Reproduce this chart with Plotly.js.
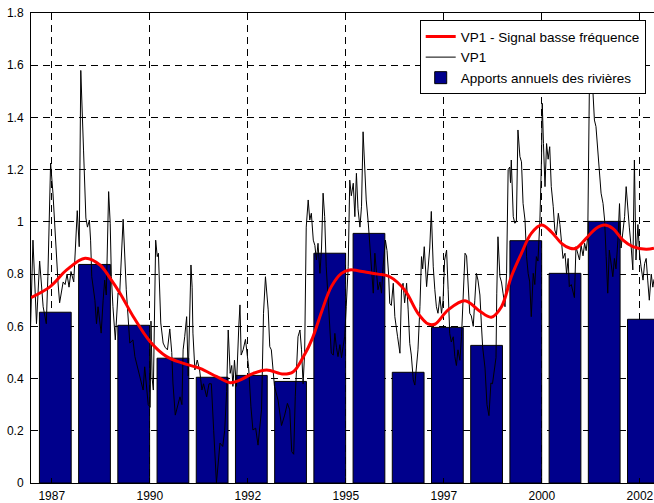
<!DOCTYPE html>
<html><head><meta charset="utf-8">
<script src="https://cdn.plot.ly/plotly-3.0.1.min.js"></script>
<style>html,body{margin:0;padding:0;background:#fff}</style>
</head><body><div id="chart" style="width:654px;height:503px"></div>
<script>
// Annual river inflows (bars), one per year
const years = [1987,1988,1989,1990,1991,1992,1993,1994,1995,1996,1997,1998,1999,2000,2001,2002];
const apports = [0.654,0.837,0.604,0.478,0.405,0.412,0.389,0.880,0.956,0.424,0.596,0.527,0.928,0.803,1.002,0.627];

// VP1 (high-frequency signal), decimal years
const vp1Time = [1986.95,1987.02,1987.11,1987.19,1987.28,1987.36,1987.40,1987.47,1987.53,1987.58,1987.66,1987.70,1987.74,1987.79,1987.84,1987.89,1987.94,1987.99,1988.06,1988.12,1988.15,1988.20,1988.24,1988.31,1988.37,1988.41,1988.46,1988.49,1988.52,1988.60,1988.64,1988.68,1988.72,1988.76,1988.81,1988.85,1988.89,1988.95,1988.99,1989.02,1989.06,1989.12,1989.19,1989.23,1989.32,1989.40,1989.49,1989.57,1989.62,1989.70,1989.78,1989.83,1989.87,1989.91,1989.96,1990.01,1990.03,1990.06,1990.09,1990.15,1990.19,1990.22,1990.28,1990.34,1990.39,1990.45,1990.51,1990.56,1990.59,1990.65,1990.71,1990.77,1990.82,1990.85,1990.89,1990.94,1990.98,1991.02,1991.05,1991.08,1991.10,1991.15,1991.21,1991.27,1991.33,1991.37,1991.45,1991.51,1991.57,1991.63,1991.70,1991.79,1991.86,1991.91,1991.96,1992.00,1992.05,1992.09,1992.12,1992.16,1992.21,1992.27,1992.30,1992.33,1992.38,1992.44,1992.48,1992.52,1992.58,1992.63,1992.70,1992.76,1992.85,1992.90,1992.95,1993.02,1993.06,1993.10,1993.18,1993.27,1993.36,1993.44,1993.51,1993.57,1993.62,1993.67,1993.71,1993.78,1993.83,1993.87,1993.91,1993.95,1993.99,1994.04,1994.08,1994.12,1994.17,1994.21,1994.25,1994.29,1994.34,1994.38,1994.42,1994.46,1994.50,1994.55,1994.59,1994.63,1994.68,1994.72,1994.76,1994.80,1994.85,1994.89,1994.93,1994.97,1995.01,1995.06,1995.10,1995.14,1995.19,1995.23,1995.27,1995.31,1995.36,1995.40,1995.44,1995.48,1995.52,1995.57,1995.61,1995.65,1995.70,1995.74,1995.78,1995.82,1995.87,1995.91,1995.95,1996.01,1996.05,1996.09,1996.12,1996.16,1996.21,1996.25,1996.32,1996.38,1996.42,1996.46,1996.50,1996.55,1996.59,1996.63,1996.67,1996.72,1996.76,1996.80,1996.84,1996.89,1996.93,1996.96,1997.00,1997.06,1997.10,1997.14,1997.18,1997.23,1997.27,1997.31,1997.35,1997.40,1997.44,1997.48,1997.52,1997.57,1997.61,1997.65,1997.69,1997.74,1997.78,1997.82,1997.86,1997.91,1997.95,1997.99,1998.04,1998.08,1998.12,1998.16,1998.20,1998.25,1998.29,1998.33,1998.37,1998.42,1998.46,1998.49,1998.55,1998.60,1998.65,1998.70,1998.74,1998.78,1998.83,1998.85,1998.88,1998.93,1998.97,1999.01,1999.06,1999.10,1999.14,1999.18,1999.20,1999.22,1999.27,1999.31,1999.35,1999.39,1999.44,1999.48,1999.52,1999.57,1999.61,1999.65,1999.69,1999.73,1999.78,1999.82,1999.86,1999.90,1999.95,1999.99,2000.01,2000.04,2000.08,2000.12,2000.16,2000.20,2000.24,2000.29,2000.33,2000.37,2000.42,2000.46,2000.50,2000.54,2000.59,2000.63,2000.67,2000.70,2000.75,2000.79,2000.83,2000.87,2000.92,2000.96,2001.00,2001.05,2001.09,2001.13,2001.17,2001.21,2001.26,2001.30,2001.34,2001.38,2001.43,2001.47,2001.51,2001.56,2001.60,2001.64,2001.68,2001.72,2001.77,2001.81,2001.85,2001.89,2001.94,2001.98,2002.02,2002.07,2002.11,2002.15,2002.19,2002.23,2002.28,2002.32,2002.36,2002.40,2002.45,2002.49,2002.53,2002.58,2002.62,2002.66,2002.70,2002.74,2002.79,2002.83,2002.86];
const vp1Value = [0.55,0.93,0.61,0.85,0.675,0.61,0.79,1.225,1.11,0.97,0.766,0.69,0.73,0.77,0.76,0.80,0.75,0.81,0.77,0.977,1.043,0.905,1.58,1.275,1.015,0.98,1.007,0.93,0.79,0.70,0.61,0.675,0.61,0.574,0.70,0.777,0.72,1.116,0.995,0.79,0.675,0.548,0.728,0.72,1.01,0.74,0.536,0.548,0.484,0.433,0.383,0.356,0.445,0.37,0.30,0.29,0.62,0.40,0.356,0.93,0.867,0.88,0.613,0.536,0.52,0.51,0.59,0.50,0.383,0.26,0.29,0.33,0.30,0.51,0.56,0.637,0.41,0.70,0.835,0.75,0.574,0.433,0.471,0.433,0.356,0.38,0.33,0.38,0.38,0.2,0.0,0.153,0.14,0.2,0.35,0.586,0.42,0.45,0.37,0.47,0.37,0.60,0.682,0.49,0.51,0.55,0.5,0.445,0.292,0.203,0.21,0.145,0.28,0.65,0.79,0.663,0.522,0.51,0.37,0.318,0.22,0.26,0.305,0.28,0.12,0.11,0.33,0.56,0.586,0.51,0.38,0.50,0.98,1.084,1.007,1.033,0.93,0.91,0.854,0.918,0.803,0.90,1.11,1.02,0.828,0.7,0.573,0.497,0.49,0.573,0.52,0.484,0.53,0.48,0.522,0.56,0.675,0.828,1.16,1.10,1.148,1.02,1.186,1.05,0.98,1.06,1.345,1.21,1.084,1.0,0.918,0.803,0.727,0.88,0.80,0.74,0.77,0.727,0.83,0.93,0.89,0.80,0.688,0.68,0.765,0.637,0.56,0.497,0.74,0.765,0.69,0.765,0.663,0.535,0.49,0.395,0.375,0.43,0.51,0.675,0.867,0.82,0.905,0.752,0.84,0.9,1.04,0.828,0.74,0.675,0.65,0.714,0.65,0.70,0.854,0.892,0.74,0.573,0.54,0.56,0.484,0.45,0.51,0.47,0.56,0.70,0.88,0.87,0.765,0.65,0.64,0.6,0.70,0.803,0.777,0.72,0.6,0.52,0.44,0.30,0.258,0.383,0.38,0.42,0.48,0.727,0.943,0.79,0.77,0.727,0.675,0.803,1.2,1.21,1.15,1.237,1.02,0.995,1.0,1.352,1.25,1.23,1.071,1.007,0.867,0.803,0.77,0.637,0.803,0.76,0.867,0.85,1.007,1.237,1.454,1.3,1.135,1.30,1.24,1.288,1.135,1.058,0.969,0.95,1.033,0.99,0.905,0.86,0.88,0.80,0.86,0.752,0.76,0.727,0.71,0.905,0.88,0.854,0.91,0.87,0.918,0.89,0.943,1.49,1.62,1.49,1.39,1.365,1.275,1.21,1.11,1.071,1.007,0.867,0.727,0.892,0.83,0.79,0.86,0.82,0.93,1.07,0.90,0.96,1.02,1.135,1.05,0.98,0.90,0.816,1.237,0.854,0.99,0.88,0.828,0.777,0.84,0.86,0.777,0.70,0.80,0.75,0.78];

// VP1 low-frequency signal
const lowTime = [1986.97,1987.46,1987.88,1988.35,1988.73,1988.99,1989.24,1989.58,1990.01,1990.43,1990.86,1991.28,1991.71,1992.05,1992.30,1992.64,1992.98,1993.41,1993.66,1993.92,1994.15,1994.38,1994.63,1994.89,1995.10,1995.31,1995.57,1995.82,1996.12,1996.50,1996.84,1997.10,1997.27,1997.61,1998.04,1998.40,1998.71,1998.97,1999.22,1999.48,1999.73,1999.99,2000.24,2000.50,2000.72,2000.87,2001.13,2001.38,2001.60,2001.81,2002.07,2002.32,2002.66,2002.86];
const lowValue = [0.71,0.752,0.816,0.861,0.835,0.784,0.727,0.637,0.541,0.484,0.458,0.439,0.407,0.384,0.394,0.42,0.433,0.417,0.426,0.484,0.555,0.655,0.752,0.803,0.816,0.813,0.806,0.80,0.79,0.739,0.65,0.609,0.608,0.663,0.698,0.66,0.635,0.675,0.79,0.88,0.956,0.988,0.962,0.918,0.899,0.899,0.937,0.975,0.988,0.975,0.93,0.905,0.895,0.899];

const tickYears = [1987.5,1990,1992.5,1995,1997.5,2000,2002.5];
const tickLabels = ['1987','1990','1992','1995','1997','2000','2002'];
const yTicks = [0,0.2,0.4,0.6,0.8,1,1.2,1.4,1.6,1.8];

const BAR_OFFSET = 0.59;
const barX = years.map(y => y + BAR_OFFSET);

const font = {family: 'Liberation Sans, Arial, Helvetica, sans-serif', size: 12, color: '#000'};
const legendFont = {family: 'Liberation Sans, Arial, Helvetica, sans-serif', size: 13.5, color: '#000'};

const traces = [
  {type:'bar', x: barX, y: apports, width: 0.81, name:'Apports annuels des rivières',
   marker:{color:'#00008C', line:{color:'#000', width:1}}, legendrank: 3, hoverinfo:'skip'},
  {type:'scatter', mode:'lines', x: vp1Time, y: vp1Value, name:'VP1',
   line:{color:'#000', width:1}, legendrank: 2},
  {type:'scatter', mode:'lines', x: lowTime, y: lowValue, name:'VP1 - Signal basse fréquence',
   line:{color:'#FF0000', width:3, shape:'spline', smoothing:1}, legendrank: 1}
];

const layout = {
  width: 654, height: 503,
  margin: {l: 31, r: 0, t: 13, b: 20},
  paper_bgcolor: '#fff', plot_bgcolor: '#fff',
  font: font,
  showlegend: true,
  legend: {x: 0.9867, y: 0.9845, xanchor:'right', yanchor:'top',
           bgcolor:'#fff', bordercolor:'#000', borderwidth:1, font: legendFont,
           tracegroupgap: 0},
  bargap: 0,
  xaxis: {range:[1986.97, 2002.86], tickmode:'array', tickvals: tickYears, ticktext: tickLabels,
          showgrid:true, gridcolor:'#000', griddash:'7px,5px', gridwidth:1,
          showline:true, linecolor:'#000', linewidth:1, mirror:true,
          ticks:'inside', ticklen:5, tickcolor:'#000', zeroline:false,
          tickfont: font, ticklabelstandoff: 2},
  yaxis: {range:[0, 1.8], tickmode:'array', tickvals: yTicks,
          showgrid:true, gridcolor:'#000', griddash:'7px,5px', gridwidth:1,
          showline:true, linecolor:'#000', linewidth:1, mirror:true,
          ticks:'inside', ticklen:5, tickcolor:'#000', zeroline:false,
          tickfont: font, ticklabelstandoff: 4}
};

Plotly.newPlot('chart', traces, layout, {displayModeBar:false, staticPlot:true});
</script></body></html>
